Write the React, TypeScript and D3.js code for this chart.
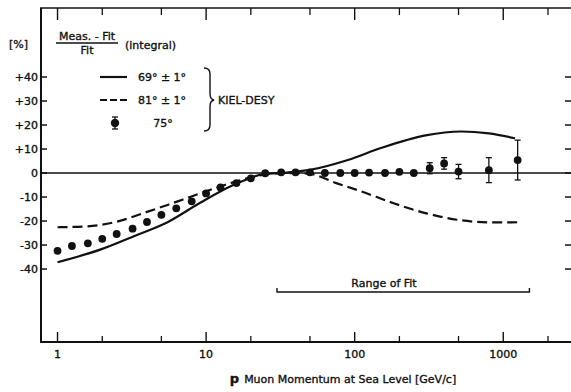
import React from "react";
import * as d3 from "d3";

// KIEL-DESY 75 deg points: momentum [GeV/c], deviation [%], error [%]
const momenta = [1, 1.25, 1.6, 2, 2.5, 3.2, 4, 5, 6.3, 8, 10, 12.5, 16, 20, 25, 32, 40, 50, 63, 80, 100, 125, 160, 200, 250, 320, 400, 500, 800, 1250];
const deviations = [-32.4, -30.4, -29.3, -27.4, -25.4, -23.2, -20.4, -17.4, -14.7, -11.8, -8.5, -6, -4.2, -2.2, -0.1, 0.3, 0.3, 0.3, 0, 0, 0, 0.2, 0, 0.5, 0, 2, 4, 0.6, 1.2, 5.4];
const errors = [0, 0, 0, 0, 0, 0, 0, 0, 0, 0, 0, 0, 0, 0, 0, 0, 0, 0, 0, 0, 0, 0, 0, 0, 0, 2.3, 2.4, 3, 5.2, 8.3];

// 69 deg +- 1 deg (solid)
const solidP = [1, 2, 3.3, 5.5, 9, 15, 24, 35, 50, 90, 150, 300, 520, 800, 1200];
const solidV = [-37.2, -31.6, -26.2, -20.5, -12.6, -5.2, -0.6, 0.2, 1.3, 5.4, 10.4, 15.7, 17.3, 16.5, 14.5];

// 81 deg +- 1 deg (dashed)
const dashedP = [1, 1.6, 2.5, 4, 5.5, 7, 10, 15, 24, 35, 49, 76, 109, 183, 304, 506, 855, 1300];
const dashedV = [-22.6, -22.2, -20.3, -16.2, -13.3, -11, -7.6, -4, -0.8, 0, -0.3, -4.3, -7.5, -12.6, -16.8, -19.6, -20.6, -20.5];

const yTicks = [40, 30, 20, 10, 0, -10, -20, -30, -40];
const xMajor = [1, 10, 100, 1000];
const xMinor = [2, 5, 20, 50, 200, 500, 2000];
const fitRange = [30, 1500];

const W = 571;
const H = 392;
const font = "DejaVu Sans, sans-serif";

const App: React.FC = () => {
  const x = d3.scaleLog().domain([0.774, 2770]).range([41, 569]);
  const y = d3.scaleLinear().domain([-70.4, 68.75]).range([342, 8]);

  const left = 41;
  const bottom = 342;
  const top = 8;

  const line = d3
    .line<[number, number]>()
    .x((d) => x(d[0]))
    .y((d) => y(d[1]))
    .curve(d3.curveMonotoneX);

  const solid = line(solidP.map((p, i) => [p, solidV[i]]));
  const dashed = line(dashedP.map((p, i) => [p, dashedV[i]]));

  const fmt = (v: number) => (v > 0 ? "+" + v : "" + v);

  return (
    <div style={{ position: "fixed", left: 0, top: 0 }}>
      <svg width={W} height={H} style={{ display: "block", background: "#fff" }}>
        <g fill="none" stroke="#111" strokeLinecap="butt">
          {/* frame */}
          <line x1={left} y1={top} x2={left} y2={bottom} strokeWidth={2} />
          <line x1={left - 1} y1={bottom} x2={W} y2={bottom} strokeWidth={2} />
          <line x1={left - 1} y1={top} x2={W} y2={top} strokeWidth={1.6} />
          {/* zero line */}
          <line x1={left} y1={y(0)} x2={W} y2={y(0)} strokeWidth={1.3} />
          {/* y ticks, left and right */}
          {yTicks.map((t) => (
            <g key={t}>
              <line x1={left} x2={left + 6} y1={y(t)} y2={y(t)} strokeWidth={1.5} />
              <line x1={W - 6} x2={W} y1={y(t)} y2={y(t)} strokeWidth={1.5} />
            </g>
          ))}
          {/* x ticks, bottom and top */}
          {xMajor.map((t) => (
            <g key={"M" + t}>
              <line x1={x(t)} x2={x(t)} y1={bottom} y2={bottom - 10} strokeWidth={1.4} />
              <line x1={x(t)} x2={x(t)} y1={top} y2={top + 12} strokeWidth={1.4} />
            </g>
          ))}
          {xMinor.map((t) => (
            <g key={"m" + t}>
              <line x1={x(t)} x2={x(t)} y1={bottom} y2={bottom - 6} strokeWidth={1.3} />
              <line x1={x(t)} x2={x(t)} y1={top} y2={top + 7} strokeWidth={1.3} />
            </g>
          ))}

          {/* curves */}
          <path d={solid ?? ""} strokeWidth={2.2} />
          <path d={dashed ?? ""} strokeWidth={2.2} strokeDasharray="10,5" />

          {/* error bars */}
          {momenta.map((p, i) =>
            errors[i] > 0 ? (
              <g key={"e" + p} strokeWidth={1.3}>
                <line x1={x(p)} x2={x(p)} y1={y(deviations[i] + errors[i])} y2={y(deviations[i] - errors[i])} />
                <line x1={x(p) - 3} x2={x(p) + 3} y1={y(deviations[i] + errors[i])} y2={y(deviations[i] + errors[i])} />
                <line x1={x(p) - 3} x2={x(p) + 3} y1={y(deviations[i] - errors[i])} y2={y(deviations[i] - errors[i])} />
              </g>
            ) : null
          )}

          {/* range of fit bracket */}
          <path
            d={`M${x(fitRange[0])},${288}V${292}H${x(fitRange[1])}V${288}`}
            strokeWidth={1.4}
          />

          {/* legend */}
          <line x1={100} x2={127} y1={77} y2={77} strokeWidth={2.2} />
          <line x1={100} x2={128} y1={100} y2={100} strokeWidth={2.2} strokeDasharray="7,3" />
          <g strokeWidth={1.3}>
            <line x1={115} x2={115} y1={117} y2={129} />
            <line x1={112} x2={118} y1={117} y2={117} />
            <line x1={112} x2={118} y1={129} y2={129} />
          </g>
          <path
            d="M204,68 Q210,68 210,74 V94 Q210,99 214,100 Q210,101 210,106 V125 Q210,131 204,131"
            strokeWidth={1.4}
          />
          {/* fraction bar */}
          <line x1={56} x2={118} y1={43} y2={43} strokeWidth={1.3} />
        </g>

        {/* points */}
        <g fill="#111">
          {momenta.map((p, i) => (
            <circle key={p} cx={x(p)} cy={y(deviations[i])} r={3.9} />
          ))}
          <circle cx={115} cy={123} r={4.2} />
        </g>

        {/* text */}
        <g fill="#111" stroke="#111" strokeWidth={0.35} fontFamily={font} fontSize={11}>
          {yTicks.map((t) => (
            <text key={t} x={left - 3} y={y(t) + 4} textAnchor="end">
              {fmt(t)}
            </text>
          ))}
          {xMajor.map((t) => (
            <text key={t} x={x(t)} y={358} textAnchor="middle">
              {t}
            </text>
          ))}
          <text x={343} y={383} textAnchor="middle">
            <tspan fontWeight="bold" fontSize={13}>p</tspan>
            <tspan dx={5}>Muon Momentum at Sea Level [GeV/c]</tspan>
          </text>
          <text x={384} y={287} textAnchor="middle">Range of Fit</text>
          <text x={9} y={48}>[%]</text>
          <text x={87} y={40} textAnchor="middle">Meas. - Fit</text>
          <text x={87} y={54} textAnchor="middle">Fit</text>
          <text x={125} y={49}>(integral)</text>
          <text x={162} y={81} textAnchor="middle">69° ± 1°</text>
          <text x={162} y={104} textAnchor="middle">81° ± 1°</text>
          <text x={163} y={127} textAnchor="middle">75°</text>
          <text x={218} y={104}>KIEL-DESY</text>
        </g>
      </svg>
    </div>
  );
};

export default App;
